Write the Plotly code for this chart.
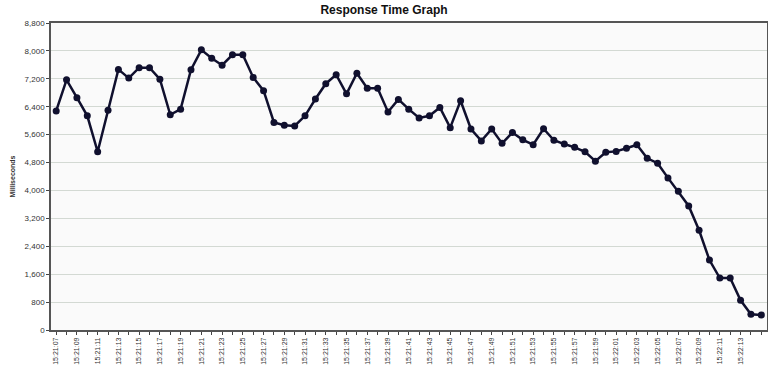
import plotly.graph_objects as go

times = [
    "15:21:07", "15:21:08", "15:21:09", "15:21:10", "15:21:11", "15:21:12", "15:21:13", "15:21:14",
    "15:21:15", "15:21:16", "15:21:17", "15:21:18", "15:21:19", "15:21:20", "15:21:21", "15:21:22",
    "15:21:23", "15:21:24", "15:21:25", "15:21:26", "15:21:27", "15:21:28", "15:21:29", "15:21:30",
    "15:21:31", "15:21:32", "15:21:33", "15:21:34", "15:21:35", "15:21:36", "15:21:37", "15:21:38",
    "15:21:39", "15:21:40", "15:21:41", "15:21:42", "15:21:43", "15:21:44", "15:21:45", "15:21:46",
    "15:21:47", "15:21:48", "15:21:49", "15:21:50", "15:21:51", "15:21:52", "15:21:53", "15:21:54",
    "15:21:55", "15:21:56", "15:21:57", "15:21:58", "15:21:59", "15:22:00", "15:22:01", "15:22:02",
    "15:22:03", "15:22:04", "15:22:05", "15:22:06", "15:22:07", "15:22:08", "15:22:09", "15:22:10",
    "15:22:11", "15:22:12", "15:22:13", "15:22:14", "15:22:15",
]

response_ms = [
    6280, 7170, 6660, 6140, 5110, 6300, 7470, 7220,
    7520, 7520, 7190, 6170, 6330, 7460, 8030, 7790,
    7590, 7890, 7890, 7240, 6860, 5950, 5870, 5850,
    6140, 6620, 7060, 7320, 6770, 7360, 6930, 6930,
    6250, 6610, 6330, 6080, 6140, 6380, 5800, 6570,
    5760, 5420, 5760, 5350, 5660, 5450, 5310, 5770,
    5440, 5330, 5235, 5110, 4840, 5095, 5120, 5210,
    5310, 4920, 4780, 4360, 3975, 3555, 2860, 2005,
    1490, 1490, 850, 450, 430,
]

tick_labels = [
    "15:21:07", "", "15:21:09", "", "15:21:11", "", "15:21:13", "",
    "15:21:15", "", "15:21:17", "", "15:21:19", "", "15:21:21", "",
    "15:21:23", "", "15:21:25", "", "15:21:27", "", "15:21:29", "",
    "15:21:31", "", "15:21:33", "", "15:21:35", "", "15:21:37", "",
    "15:21:39", "", "15:21:41", "", "15:21:43", "", "15:21:45", "",
    "15:21:47", "", "15:21:49", "", "15:21:51", "", "15:21:53", "",
    "15:21:55", "", "15:21:57", "", "15:21:59", "", "15:22:01", "",
    "15:22:03", "", "15:22:05", "", "15:22:07", "", "15:22:09", "",
    "15:22:11", "", "15:22:13", "", "",
]

fig = go.Figure()
fig.add_trace(go.Scatter(
    x=times, y=response_ms, mode="lines+markers",
    line=dict(color="#10102e", width=2.5),
    marker=dict(color="#10102e", size=7),
    showlegend=False,
))

fig.update_layout(
    width=768, height=366,
    margin=dict(l=51, r=1, t=23, b=36, autoexpand=False),
    paper_bgcolor="white",
    plot_bgcolor="#fafafa",
    font=dict(family="Liberation Sans, Arial, sans-serif", color="#333"),
    title=dict(text="<b>Response Time Graph</b>", x=0.5, xanchor="center",
               y=0.972, yanchor="middle",
               font=dict(size=12, color="#111")),
)

fig.update_xaxes(
    type="category",
    tickmode="array", tickvals=times, ticktext=tick_labels,
    tickangle=-90, tickfont=dict(size=7, color="#333"),
    ticks="outside", ticklen=3, tickcolor="#444",
    range=[-0.5, 68.55],
    showgrid=False,
    showline=True, linecolor="#555", linewidth=1.5, mirror=True,
)

fig.update_yaxes(
    range=[0, 8800], dtick=800, tickformat=",",
    tickfont=dict(size=8, color="#333"),
    ticks="outside", ticklen=3, tickcolor="#444",
    gridcolor="#d3d9d3", gridwidth=1.3,
    zeroline=False,
    showline=True, linecolor="#555", linewidth=1.5, mirror=True,
    title=dict(text="<b>Milliseconds</b>", font=dict(size=7, color="#333"), standoff=8),
)

fig.write_html(
    "out.html",
    config={"displayModeBar": False},
    post_script="document.body.style.margin='0';document.body.style.overflow='hidden';",
)
